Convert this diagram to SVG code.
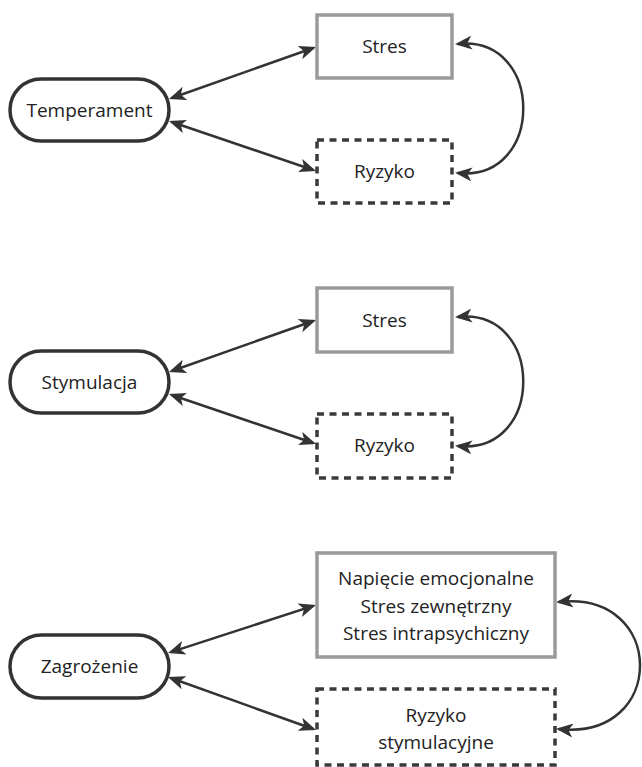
<svg xmlns="http://www.w3.org/2000/svg" width="642" height="767" viewBox="0 0 642 767">
<style>
  .pill { fill: #ffffff; stroke: #333333; stroke-width: 3.5; }
  .solid { fill: #ffffff; stroke: #9a9a9a; stroke-width: 3.5; }
  .dashed { fill: #ffffff; stroke: #3a3a3a; stroke-width: 3.5; stroke-dasharray: 7 5.5; }
  .lbl { font-family: "Open Sans", "Noto Sans", sans-serif; font-size: 19px; fill: #222222; text-anchor: middle; }
  .conn { fill: none; stroke: #333333; stroke-width: 2.5; marker-start: url(#ah); marker-end: url(#ah); }
</style>
<defs>
  <marker id="ah" viewBox="0 0 17 14" refX="14" refY="7" markerWidth="17" markerHeight="14" markerUnits="userSpaceOnUse" orient="auto-start-reverse">
    <path d="M0,0 L17,7 L0,14 L4.5,7 Z" fill="#333333"/>
  </marker>
</defs>
<rect width="642" height="767" fill="#ffffff"/>

<g id="connectors">
  <path class="conn" d="M171.8,98 L313.2,48"/>
  <path class="conn" d="M171.8,122 L313.2,170"/>
  <path class="conn" d="M458,44 C545,35 545,182 458,173"/>

  <path class="conn" d="M171.8,371 L313.2,321"/>
  <path class="conn" d="M171.8,395 L313.2,443"/>
  <path class="conn" d="M458,317 C545,308 545,455 458,446"/>

  <path class="conn" d="M170.9,652.1 L313.1,605.9"/>
  <path class="conn" d="M170.8,678 L313.2,729"/>
  <path class="conn" d="M559,602 C667,590 667,741 559,729"/>
</g>

<g id="temperament">
  <rect class="pill" x="10" y="79" width="159" height="62" rx="31" ry="31"/>
  <text class="lbl" x="89.5" y="116.5">Temperament</text>
</g>
<g id="stres1">
  <rect class="solid" x="317" y="15" width="135" height="63"/>
  <text class="lbl" x="384.5" y="53">Stres</text>
</g>
<g id="ryzyko1">
  <rect class="dashed" x="317" y="140" width="135" height="63"/>
  <text class="lbl" x="384.5" y="178">Ryzyko</text>
</g>

<g id="stymulacja">
  <rect class="pill" x="10" y="351" width="159" height="62" rx="31" ry="31"/>
  <text class="lbl" x="89.5" y="388.5">Stymulacja</text>
</g>
<g id="stres2">
  <rect class="solid" x="317" y="288" width="135" height="64"/>
  <text class="lbl" x="384.5" y="326.5">Stres</text>
</g>
<g id="ryzyko2">
  <rect class="dashed" x="317" y="414" width="135" height="64"/>
  <text class="lbl" x="384.5" y="452">Ryzyko</text>
</g>

<g id="zagrozenie">
  <rect class="pill" x="10" y="635" width="159" height="63" rx="31.5" ry="31.5"/>
  <text class="lbl" x="89.5" y="673">Zagrożenie</text>
</g>
<g id="stres3">
  <rect class="solid" x="317" y="553" width="238" height="104"/>
  <text class="lbl" x="436" y="585">Napięcie emocjonalne</text>
  <text class="lbl" x="436" y="613">Stres zewnętrzny</text>
  <text class="lbl" x="436" y="640">Stres intrapsychiczny</text>
</g>
<g id="ryzyko3">
  <rect class="dashed" x="317" y="689" width="238" height="76"/>
  <text class="lbl" x="436" y="722">Ryzyko</text>
  <text class="lbl" x="436" y="749">stymulacyjne</text>
</g>
</svg>
